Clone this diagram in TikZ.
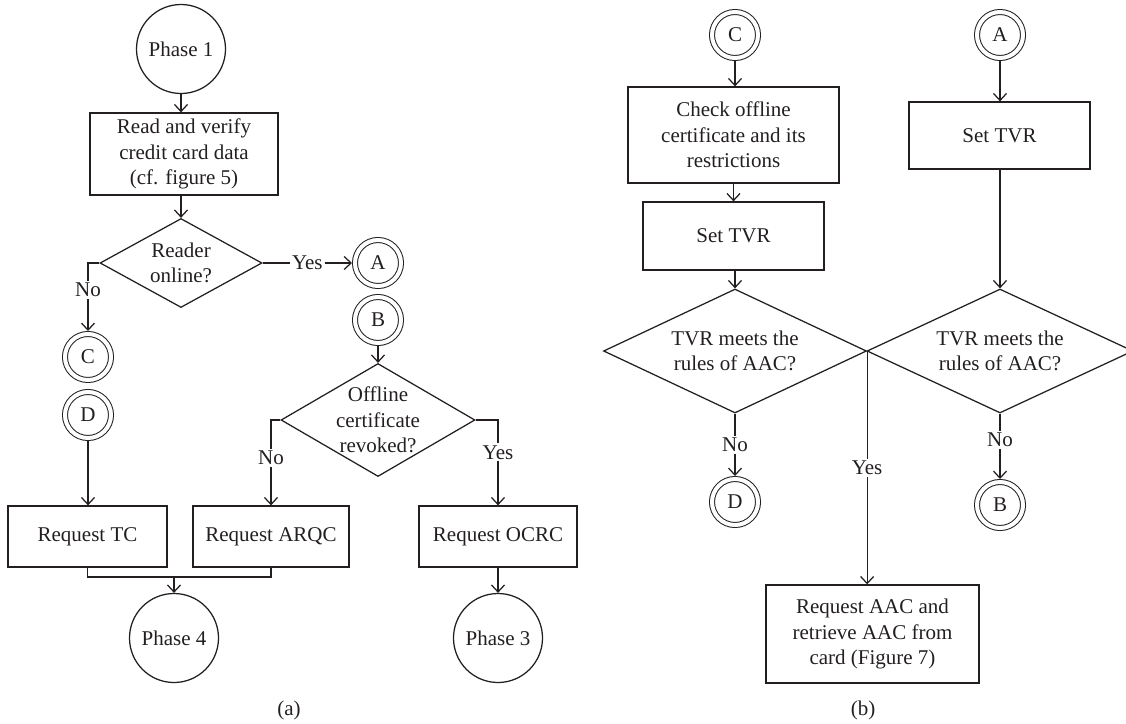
\documentclass[tikz,border=0pt]{standalone}
\usepackage{fontspec}
\setmainfont{Liberation Serif}
\usetikzlibrary{shapes.geometric,arrows.meta,calc}
\definecolor{ink}{RGB}{35,31,32}
\begin{document}
\begin{tikzpicture}[x=1pt,y=-1pt,
  every node/.style={font=\fontsize{21}{25.5}\selectfont, text=ink},
  line/.style={draw=ink, line width=1.25pt},
  arr/.style={line, -{Straight Barb[length=7pt,width=13pt]}},
  box/.style={draw=ink, line width=1.25pt, rectangle, align=center, inner sep=0pt},
  phase/.style={draw=ink, line width=1.25pt, circle, minimum size=89pt, inner sep=0pt},
  conn/.style={draw=ink, line width=1pt, circle, double=white, double distance=4pt,
    minimum size=46pt, inner sep=0pt, outer sep=3pt},
  decision/.style={draw=ink, line width=1.25pt, diamond, inner sep=0pt},
  lbl/.style={fill=white, inner sep=2pt},
  txt/.style={align=center, inner sep=0pt},
]
\useasboundingbox (0,0) rectangle (1126,723);

% ---------------- (a) ----------------
\node[phase] (p1) at (181,49) {Phase 1};
\node[box, minimum width=188pt, minimum height=82pt] (read) at (184,154)
  {Read and verify\\credit card data\\(cf. figure 5)};
\node[decision, minimum width=162pt, minimum height=89pt] (dec1) at (181,263) {};
\node[txt] at (dec1) {Reader\\online?};
\node[conn] (A1) at (378,263) {A};
\node[conn] (B1) at (378,320) {B};
\node[conn] (C1) at (88,357) {C};
\node[conn] (D1) at (88,415) {D};
\node[decision, minimum width=194pt, minimum height=113pt] (dec2) at (378,420) {};
\node[txt] at (dec2) {Offline\\certificate\\revoked?};
\node[box, minimum width=159pt, minimum height=61pt] (tc) at (87.5,536.5) {Request TC};
\node[box, minimum width=156pt, minimum height=61pt] (arqc) at (271,536.5) {Request ARQC};
\node[box, minimum width=158pt, minimum height=61pt] (ocrc) at (498,536.5) {Request OCRC};
\node[phase] (p4) at (174,638) {Phase 4};
\node[phase] (p3) at (498,638) {Phase 3};
\coordinate (mj) at (174,577);
\node (capa) at (289,710) {(a)};

\draw[arr] (p1) -- (p1 |- read.north);
\draw[arr] (p1 |- read.south) -- (dec1.north);
\draw[arr] (dec1.east) -- node[lbl]{Yes} (A1.west);
\draw[arr] (dec1.west) -| node[lbl,pos=0.7]{No} (C1.north);
\draw[arr] (B1) -- (dec2.north);
\draw[arr] (dec2.west) -| node[lbl,pos=0.72]{No} (arqc.north);
\draw[arr] (dec2.east) -| node[lbl,pos=0.69]{Yes} (ocrc.north);
\draw[arr] (D1) -- (D1 |- tc.north);
\draw[line] (tc.south) |- (mj) -| (arqc.south);
\draw[arr] (mj) -- (p4.north);
\draw[arr] (ocrc.south) -- (p3.north);

% ---------------- (b) ----------------
\node[conn] (C2) at (735,35) {C};
\node[box, minimum width=211pt, minimum height=96pt] (check) at (733.5,135)
  {Check offline\\certificate and its\\restrictions};
\node[box, minimum width=181pt, minimum height=68pt] (set1) at (733.5,236) {Set TVR};
\node[decision, minimum width=263pt, minimum height=124pt] (dec3) at (735,351) {};
\node[txt] at (dec3) {TVR meets the\\rules of AAC?};
\node[conn] (A2) at (1000,35) {A};
\node[box, minimum width=181pt, minimum height=67pt] (set2) at (999.5,135.5) {Set TVR};
\node[decision, minimum width=266pt, minimum height=124pt] (dec4) at (1000,351) {};
\node[txt] at (dec4) {TVR meets the\\rules of AAC?};
\node[conn] (D2) at (735,502) {D};
\node[conn] (B2) at (1000,505) {B};
\node[box, minimum width=213pt, minimum height=98pt] (aac) at (872.5,634)
  {Request AAC and\\retrieve AAC from\\card (Figure 7)};
\node (capb) at (863,710) {(b)};

\draw[arr] (C2) -- (C2 |- check.north);
\draw[arr] (check.south) -- (set1.north);
\draw[arr] (dec3.north |- set1.south) -- (dec3.north);
\draw[arr] (A2) -- (A2 |- set2.north);
\draw[arr] (A2 |- set2.south) -- (dec4.north);
\draw[arr] (dec3.south) -- node[lbl]{No} (D2);
\draw[arr] (dec4.south) -- node[lbl,pos=0.4]{No} (B2);
\draw[arr] (dec3.east) -- node[lbl]{Yes} (dec3.east |- aac.north);
\end{tikzpicture}
\end{document}
